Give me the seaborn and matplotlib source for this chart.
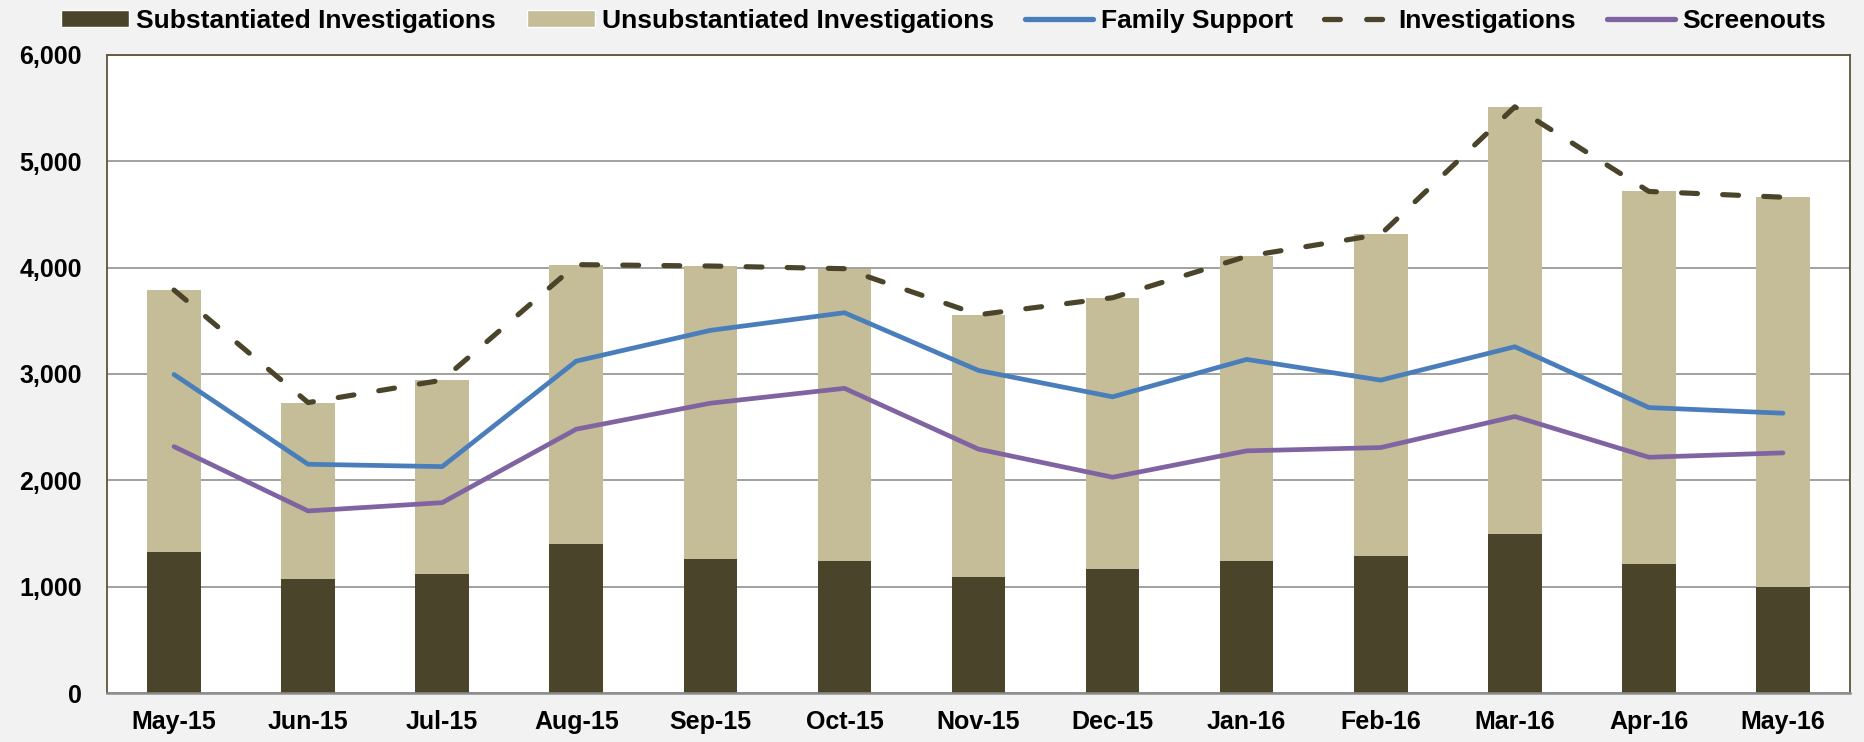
import numpy as np
import pandas as pd
import matplotlib
matplotlib.use("Agg")
import matplotlib.pyplot as plt
import seaborn as sns
from matplotlib.lines import Line2D
from matplotlib.patches import Patch
from matplotlib.ticker import FuncFormatter, MultipleLocator

# --- Data ---
MONTHS = ["May-15", "Jun-15", "Jul-15", "Aug-15", "Sep-15", "Oct-15", "Nov-15",
          "Dec-15", "Jan-16", "Feb-16", "Mar-16", "Apr-16", "May-16"]
SUBSTANTIATED = [1326, 1072, 1119, 1399, 1260, 1245, 1094, 1166, 1242, 1289, 1499, 1217, 997]
UNSUBSTANTIATED = [2463, 1659, 1823, 2629, 2755, 2745, 2463, 2551, 2864, 3024, 4013, 3499, 3665]
FAMILY_SUPPORT = [2995, 2151, 2129, 3121, 3410, 3576, 3033, 2785, 3137, 2942, 3256, 2684, 2631]
INVESTIGATIONS = [3789, 2731, 2942, 4028, 4015, 3990, 3557, 3717, 4106, 4313, 5512, 4716, 4662]
SCREENOUTS = [2317, 1712, 1790, 2481, 2725, 2865, 2293, 2029, 2277, 2308, 2600, 2217, 2258]

# --- Colours ---
DARK_OLIVE = "#4A452A"
TAN = "#C4BD97"
BLUE = "#4A7EBB"
PURPLE = "#8064A2"
BACKGROUND = "#F2F2F2"
GRID = "#878787"
FRAME = "#5B5539"


def setup_style():
    sns.set_theme(style="white")
    # font family has to be set after set_theme
    plt.rcParams.update({
        "font.family": ["Liberation Sans", "DejaVu Sans"],
        "font.weight": "bold",
        "text.color": "black",
        "figure.facecolor": BACKGROUND,
        "axes.facecolor": "white",
    })


def main():
    setup_style()

    df = pd.DataFrame({
        "month": MONTHS,
        "substantiated": SUBSTANTIATED,
        "unsubstantiated": UNSUBSTANTIATED,
    })
    # stacked look: draw the full height in tan, then the substantiated part over it
    df["total"] = df["substantiated"] + df["unsubstantiated"]
    pos = np.arange(len(MONTHS))

    fig = plt.figure(figsize=(18.64, 7.42), dpi=100)
    ax = fig.add_axes([0.0574, 0.066, 0.9351, 0.860])

    sns.barplot(data=df, x="month", y="total", color=TAN, width=0.4,
                saturation=1, linewidth=0, ax=ax, zorder=2)
    sns.barplot(data=df, x="month", y="substantiated", color=DARK_OLIVE, width=0.4,
                saturation=1, linewidth=0, ax=ax, zorder=2)

    sns.lineplot(x=pos, y=FAMILY_SUPPORT, color=BLUE, lw=3.4, ax=ax, zorder=3)
    sns.lineplot(x=pos, y=INVESTIGATIONS, color=DARK_OLIVE, lw=3.7, ax=ax, zorder=3)
    dashed = ax.lines[-1]
    dashed.set_dashes((3.1, 4.9))
    dashed.set_dash_capstyle("round")
    sns.lineplot(x=pos, y=SCREENOUTS, color=PURPLE, lw=3.4, ax=ax, zorder=3)

    # axes
    ax.set_xlim(-0.5, len(MONTHS) - 0.5)
    ax.set_ylim(0, 6000)
    ax.yaxis.set_major_locator(MultipleLocator(1000))
    ax.yaxis.set_major_formatter(FuncFormatter(lambda v, _: f"{int(v):,}"))
    ax.set_xticks(pos)
    ax.set_xticklabels(MONTHS)
    ax.set_xlabel("")
    ax.set_ylabel("")
    ax.tick_params(axis="y", length=0, pad=18, labelsize=18, labelcolor="black")
    ax.tick_params(axis="x", length=0, pad=12, labelsize=18, labelcolor="black")
    for lbl in ax.get_xticklabels() + ax.get_yticklabels():
        lbl.set_fontweight("bold")

    ax.grid(axis="y", color=GRID, lw=1.1, zorder=0)
    ax.set_axisbelow(True)
    for side in ["left", "top", "right"]:
        ax.spines[side].set_color(FRAME)
        ax.spines[side].set_linewidth(1.3)
    ax.spines["bottom"].set_color("#8C8C8C")
    ax.spines["bottom"].set_linewidth(1.8)

    handles = [
        Patch(facecolor=DARK_OLIVE, label="Substantiated Investigations"),
        Patch(facecolor=TAN, label="Unsubstantiated Investigations"),
        Line2D([], [], color=BLUE, lw=3.8, label="Family Support"),
        Line2D([], [], color=DARK_OLIVE, lw=3.8, dashes=(3.0, 5.0),
               dash_capstyle="round", label="Investigations"),
        Line2D([], [], color=PURPLE, lw=3.8, label="Screenouts"),
    ]
    fig.legend(handles=handles, ncol=5, loc="center", bbox_to_anchor=(0.5063, 0.972),
               frameon=False, handlelength=2.58, handleheight=0.57, handletextpad=0.27,
               columnspacing=1.17, labelcolor="black", prop={"size": 19, "weight": "bold"})

    fig.savefig("out.png", dpi=100, facecolor=BACKGROUND)
    plt.close(fig)


if __name__ == "__main__":
    main()
